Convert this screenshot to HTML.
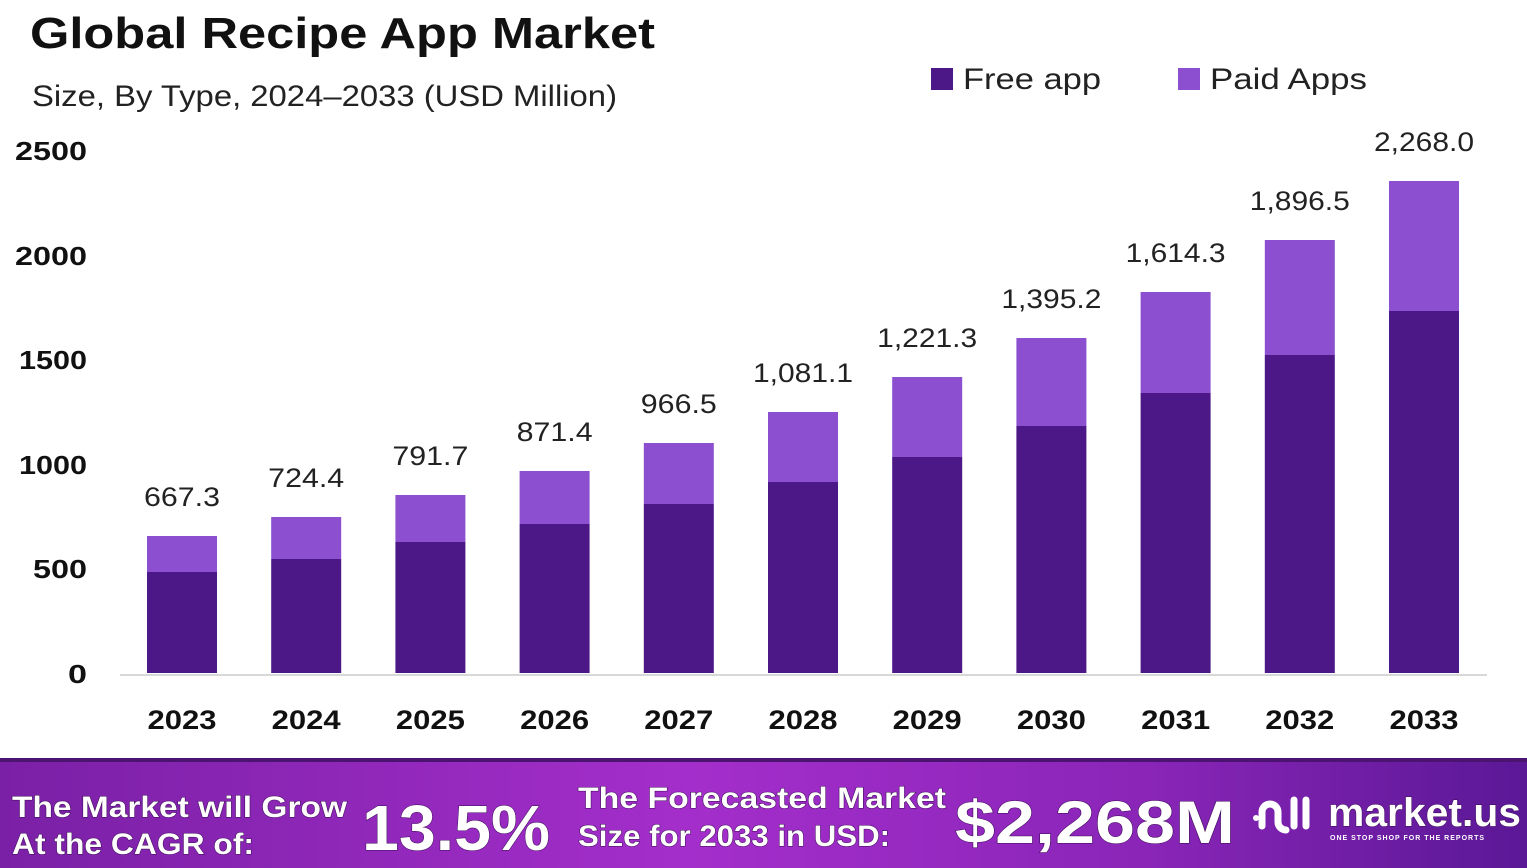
<!DOCTYPE html>
<html><head><meta charset="utf-8"><style>
html,body{margin:0;padding:0;background:#fff;}
svg{display:block;font-family:"Liberation Sans",sans-serif;}
</style></head><body>
<svg width="1527" height="868" viewBox="0 0 1527 868" xmlns="http://www.w3.org/2000/svg">
<defs>
<linearGradient id="bg" x1="0" x2="1" y1="0" y2="0">
<stop offset="0" stop-color="#7a20a6"/>
<stop offset="0.45" stop-color="#a42ecb"/>
<stop offset="0.75" stop-color="#8a25b8"/>
<stop offset="1" stop-color="#5a1896"/>
</linearGradient>
</defs>
<rect width="1527" height="868" fill="#fff"/>
<text x="30" y="48" font-size="44" font-weight="bold" fill="#111" textLength="625" lengthAdjust="spacingAndGlyphs">Global Recipe App Market</text>
<text x="32" y="106" font-size="30" fill="#222" textLength="585" lengthAdjust="spacingAndGlyphs">Size, By Type, 2024–2033 (USD Million)</text>
<rect x="931" y="68" width="22" height="22" fill="#4c1786"/>
<text x="963" y="89" font-size="30" fill="#222" textLength="138" lengthAdjust="spacingAndGlyphs">Free app</text>
<rect x="1178" y="68" width="22" height="22" fill="#8c4fd0"/>
<text x="1210" y="89" font-size="30" fill="#222" textLength="157" lengthAdjust="spacingAndGlyphs">Paid Apps</text>
<g font-size="26" font-weight="bold" fill="#111">
<text x="15" y="160" textLength="72" lengthAdjust="spacingAndGlyphs">2500</text>
<text x="15" y="265" textLength="72" lengthAdjust="spacingAndGlyphs">2000</text>
<text x="19" y="369" textLength="68" lengthAdjust="spacingAndGlyphs">1500</text>
<text x="19" y="474" textLength="68" lengthAdjust="spacingAndGlyphs">1000</text>
<text x="33" y="578" textLength="54" lengthAdjust="spacingAndGlyphs">500</text>
<text x="68" y="683" textLength="19" lengthAdjust="spacingAndGlyphs">0</text>
</g>
<line x1="120" y1="675" x2="1487" y2="675" stroke="#ccc" stroke-width="1.5"/>
<g id="bars"></g>
<g font-size="27" font-weight="bold" fill="#111" text-anchor="middle" id="xl"></g>
<g font-size="27" fill="#222" text-anchor="middle" id="vl"></g>
<rect x="0" y="758" width="1527" height="110" fill="url(#bg)"/>
<rect x="0" y="758" width="1527" height="4" fill="#4a1470"/>
<g fill="#fff" font-weight="bold" style="paint-order:stroke" stroke="#3a0a55" stroke-width="1">
<text x="12" y="817" font-size="30" textLength="335" lengthAdjust="spacingAndGlyphs">The Market will Grow</text>
<text x="12" y="854" font-size="30" textLength="242" lengthAdjust="spacingAndGlyphs">At the CAGR of:</text>
<text x="362" y="850" font-size="64" textLength="188" lengthAdjust="spacingAndGlyphs">13.5%</text>
<text x="578" y="808" font-size="30" textLength="368" lengthAdjust="spacingAndGlyphs">The Forecasted Market</text>
<text x="578" y="846" font-size="30" textLength="312" lengthAdjust="spacingAndGlyphs">Size for 2033 in USD:</text>
<text x="955" y="843" font-size="60" textLength="280" lengthAdjust="spacingAndGlyphs">$2,268M</text>
<text x="1328" y="826" font-size="40" textLength="193" lengthAdjust="spacingAndGlyphs">market.us</text>
<text x="1330" y="840" font-size="7" stroke="none" letter-spacing="1">ONE STOP SHOP FOR THE REPORTS</text>
</g>
<g fill="none" stroke="#fff" stroke-width="7" stroke-linecap="round">
<circle cx="1256" cy="818" r="3" fill="#fff" stroke="none"/>
<path d="M1262 826 V812 a8 8 0 0 1 16 0 V822 a8 8 0 0 0 8 8"/>
<path d="M1294 800 V826"/>
<path d="M1306 800 V826"/>
</g>
</svg>
<script>
const tops=[536,517,495,471,443,412,377,338,292,240,181];
const splits=[572,559,542,524,504,482,457,426,393,355,311];
const labels=["667.3","724.4","791.7","871.4","966.5","1,081.1","1,221.3","1,395.2","1,614.3","1,896.5","2,268.0"];
const ns="http://www.w3.org/2000/svg";
const b=document.getElementById('bars'),xl=document.getElementById('xl'),vl=document.getElementById('vl');
for(let i=0;i<11;i++){
 const cx=182+i*124.2;
 let r=document.createElementNS(ns,'rect');r.setAttribute('x',cx-35);r.setAttribute('y',tops[i]);r.setAttribute('width',70);r.setAttribute('height',splits[i]-tops[i]);r.setAttribute('fill','#8c4fd0');b.appendChild(r);
 r=document.createElementNS(ns,'rect');r.setAttribute('x',cx-35);r.setAttribute('y',splits[i]);r.setAttribute('width',70);r.setAttribute('height',673-splits[i]);r.setAttribute('fill','#4c1786');b.appendChild(r);
 let t=document.createElementNS(ns,'text');t.setAttribute('x',cx);t.setAttribute('y',729);t.setAttribute('textLength',69);t.setAttribute('lengthAdjust','spacingAndGlyphs');t.textContent=2023+i;xl.appendChild(t);
 t=document.createElementNS(ns,'text');t.setAttribute('x',cx);t.setAttribute('y',tops[i]-30);
 t.setAttribute('textLength',labels[i].length>5?100:76);t.setAttribute('lengthAdjust','spacingAndGlyphs');
 t.textContent=labels[i];vl.appendChild(t);
}
</script>
</body></html>
